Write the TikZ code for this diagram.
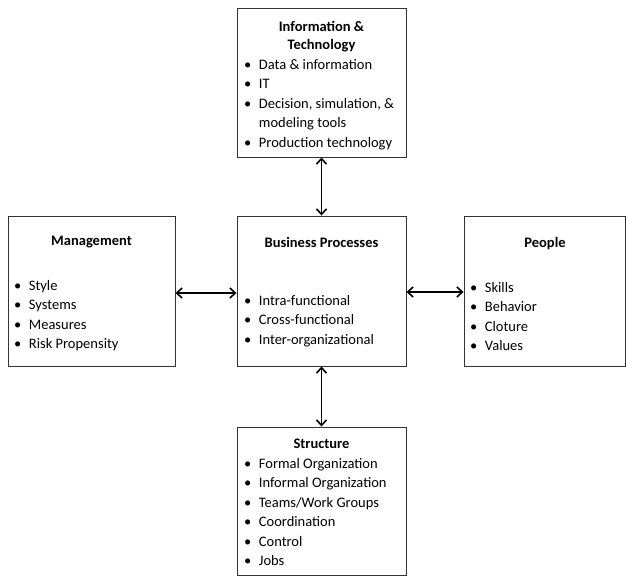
\documentclass[tikz,border=0pt]{standalone}
\usepackage{fontspec}
\setmainfont{Carlito}
\usetikzlibrary{arrows.meta}
\tikzset{
  box/.style={draw=black!80, line width=0.9pt, rectangle, inner sep=0pt},
  ttl/.style={font=\fontsize{14.5}{18}\selectfont\bfseries, anchor=base, inner sep=0pt},
  lst/.style={font=\fontsize{14.5}{19.5}\selectfont, anchor=base west, inner sep=0pt},
  link/.style={line width=1.6pt, {Straight Barb[length=5.5pt,width=10pt,line width=1.6pt]}-{Straight Barb[length=5.5pt,width=10pt,line width=1.6pt]}}
}
\newcommand{\blist}[1]{\begin{tabular}[t]{@{}l@{\hspace{7.5pt}}l@{}}#1\end{tabular}}
\begin{document}
\begin{tikzpicture}[x=1pt,y=-1pt]
\useasboundingbox (0,0) rectangle (626,576);
% boxes
\node[box, minimum width=169pt, minimum height=149pt] (it) at (321.5,82.5) {};
\node[box, minimum width=167pt, minimum height=150pt] (mg) at (91.5,291) {};
\node[box, minimum width=169pt, minimum height=150pt] (bp) at (321.5,291) {};
\node[box, minimum width=161pt, minimum height=150pt] (pp) at (544.5,291) {};
\node[box, minimum width=169pt, minimum height=148.5pt] (st) at (321.5,501.25) {};
% titles
\node[ttl] (itt) at (321.5,31) {Information \&};
\node[ttl] (itt2) at (321.5,49.5) {Technology};
\node[ttl] (mgt) at (91.5,245) {Management};
\node[ttl] (bpt) at (321.5,247) {Business Processes};
\node[ttl] (ppt) at (545,247) {People};
\node[ttl] (stt) at (321.5,448) {Structure};
% lists
\node[lst] (itl) at (244,69) {\blist{\textbullet & Data \& information\\ \textbullet & IT\\ \textbullet & Decision, simulation, \&\\ & modeling tools\\ \textbullet & Production technology}};
\node[lst] (mgl) at (14,290) {\blist{\textbullet & Style\\ \textbullet & Systems\\ \textbullet & Measures\\ \textbullet & Risk Propensity}};
\node[lst] (bpl) at (244,305) {\blist{\textbullet & Intra-functional\\ \textbullet & Cross-functional\\ \textbullet & Inter-organizational}};
\node[lst] (ppl) at (470,292) {\blist{\textbullet & Skills\\ \textbullet & Behavior\\ \textbullet & Cloture\\ \textbullet & Values}};
\node[lst] (stl) at (244,468) {\blist{\textbullet & Formal Organization\\ \textbullet & Informal Organization\\ \textbullet & Teams/Work Groups\\ \textbullet & Coordination\\ \textbullet & Control\\ \textbullet & Jobs}};
% connectors
\draw[link] (it.south) -- (bp.north);
\draw[link] (bp.south) -- (st.north);
\draw[link] (mg.east |- 0,293) -- (bp.west |- 0,293);
\draw[link] (bp.east |- 0,292) -- (pp.west |- 0,292);
\end{tikzpicture}
\end{document}
